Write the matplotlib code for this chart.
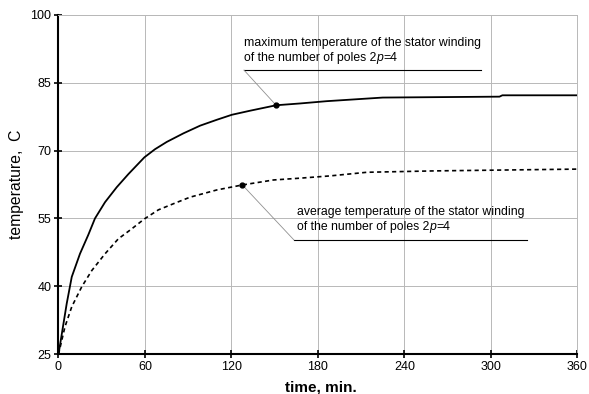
import numpy as np
import matplotlib
matplotlib.use("Agg")
import matplotlib.pyplot as plt

plt.rcParams['font.family'] = ['Liberation Sans', 'DejaVu Sans']

time_max = [0, 5.7, 9.2, 14.9, 20.7, 25.3, 32.3, 40.4, 48.5, 59.6, 67, 75.1, 86.7, 98.3,
            109.9, 120.3, 133, 151, 167.7, 186, 225, 306, 308, 360]
temp_max = [25, 36.2, 42.1, 47.2, 51.4, 55.0, 58.6, 61.9, 64.8, 68.5, 70.3, 71.9, 73.8, 75.5,
            76.8, 77.9, 78.8, 80.0, 80.4, 80.9, 81.7, 81.9, 82.2, 82.2]

time_avg = [0, 4.5, 9.2, 16.1, 23.1, 32.3, 41.5, 50.8, 59.6, 69.3, 80.9, 91.3, 109.9, 127.6,
            149.2, 167.7, 188.5, 214, 260, 360]
temp_avg = [25, 31.1, 35.5, 39.9, 43.5, 47.2, 50.5, 52.7, 54.9, 56.9, 58.4, 59.7, 61.3, 62.4,
            63.5, 63.9, 64.4, 65.2, 65.5, 65.9]

x_ticks = [0, 60, 120, 180, 240, 300, 360]
y_ticks = [25, 40, 55, 70, 85, 100]

label_max = "maximum temperature of the stator winding"
label_avg = "average temperature of the stator winding"
label_poles = ["of the number of poles 2", "p", "=4"]
mark_max_t = 151
mark_avg_t = 127.6

W, H = 589, 394
x0, x1, y0, y1 = 58.5, 577.3, 354.3, 14.7
fig = plt.figure(figsize=(W/100, H/100), dpi=100)
ax = fig.add_axes([x0/W, 1-y0/H, (x1-x0)/W, (y0-y1)/H])

ax.plot(time_max, temp_max, color='black', lw=1.3, solid_joinstyle='round')
ax.plot(time_avg, temp_avg, color='black', lw=1.2, linestyle=(0, (2.5, 2)))

ax.set_xlim(0, 360)
ax.set_ylim(25, 100)
ax.set_xticks(x_ticks)
ax.set_yticks(y_ticks)
ax.grid(True, color='#b8b8b8', lw=0.7)
ax.set_axisbelow(True)
for s in ['top', 'right']:
    ax.spines[s].set_color('#b8b8b8')
    ax.spines[s].set_linewidth(0.7)
for s in ['left', 'bottom']:
    ax.spines[s].set_color('black')
    ax.spines[s].set_linewidth(1.5)
ax.tick_params(direction='inout', length=6, width=1.2, labelsize=9, colors='black', pad=2)
ax.set_xlabel("time, min.", fontsize=11, fontweight='bold', va='center')
ax.xaxis.set_label_coords((321.3-x0)/(x1-x0), (y0-388)/(y0-y1))
ax.set_ylabel("temperature,  C", fontsize=11.3, va='center')
ax.yaxis.set_label_coords((17-x0)/(x1-x0), 0.5)

# markers
ym = np.interp(mark_max_t, time_max, temp_max)
ya = np.interp(mark_avg_t, time_avg, temp_avg)
ax.plot([mark_max_t], [ym], 'o', color='black', ms=3.5, zorder=5)
ax.plot([mark_avg_t], [ya], 'o', color='black', ms=3.5, zorder=5)

FS = 8.85

def poles_line(x, y):
    t1 = ax.text(x, y, label_poles[0], fontsize=FS, va='baseline', ha='left')
    t2 = ax.annotate(label_poles[1], xy=(1, 0), xycoords=t1, va='bottom', ha='left',
                     fontsize=FS, style='italic')
    ax.annotate(label_poles[2], xy=(1, 0), xycoords=t2, va='bottom', ha='left', fontsize=FS)

# upper annotation
ax.text(128.7, 93.67, label_max, fontsize=FS, va='center', ha='left')
poles_line(128.7, 89.7)
ax.plot([128.7, 293], [87.77, 87.77], color='black', lw=0.8)
ax.plot([128.7, mark_max_t], [87.77, ym], color='#909090', lw=0.6)

# lower annotation
ax.text(165.7, 56.35, label_avg, fontsize=FS, va='center', ha='left')
poles_line(165.7, 52.5)
ax.plot([163.4, 324.9], [50.24, 50.24], color='black', lw=0.8)
ax.plot([163.4, mark_avg_t], [50.24, ya], color='#909090', lw=0.6)

fig.savefig("out.png", dpi=100)
